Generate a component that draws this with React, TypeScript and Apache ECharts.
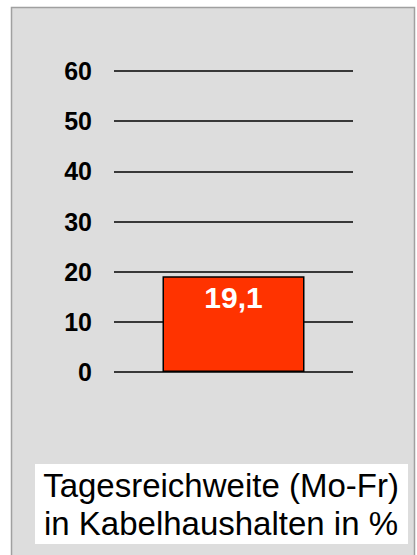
import React, { useEffect, useRef } from "react";
import * as echarts from "echarts";

const categories = ["Tagesreichweite"];
const values = [19.1];
const valueLabels = ["19,1"];
const yTicks = { min: 0, max: 60, interval: 10 };
const captionLines = ["Tagesreichweite (Mo-Fr)", "in Kabelhaushalten in %"];

const FONT = "'Liberation Sans', Arial, Helvetica, sans-serif";

export default function App() {
  const ref = useRef<HTMLDivElement>(null);
  useEffect(() => {
    if (!ref.current) return;
    const chart = echarts.init(ref.current, null, { renderer: "svg" });
    chart.setOption({
      animation: false,
      backgroundColor: "#ffffff",
      graphic: [
        {
          type: "rect",
          z: -10,
          shape: { x: 11.5, y: 7.5, width: 403, height: 560 },
          style: { fill: "#dddddd", stroke: "#a0a0a0", lineWidth: 1.5 },
        },
        {
          type: "rect",
          shape: { x: 35, y: 464, width: 373, height: 80 },
          style: { fill: "#ffffff" },
        },
        {
          type: "text",
          x: 221,
          y: 504,
          style: {
            text: captionLines.join("\n"),
            fontSize: 33,
            fontFamily: FONT,
            lineHeight: 38,
            fill: "#000000",
            align: "center",
            verticalAlign: "middle",
          },
        },
      ],
      grid: { left: 114, right: 64, top: 71, bottom: 183, containLabel: false },
      xAxis: {
        type: "category",
        data: categories,
        axisLine: { show: false },
        axisTick: { show: false },
        axisLabel: { show: false },
      },
      yAxis: {
        type: "value",
        min: yTicks.min,
        max: yTicks.max,
        interval: yTicks.interval,
        axisLine: { show: false },
        axisTick: { show: false },
        axisLabel: {
          margin: 22,
          fontSize: 25,
          fontWeight: "bold",
          fontFamily: FONT,
          color: "#000000",
        },
        splitLine: { lineStyle: { color: "#000000", width: 1.5 } },
      },
      series: [
        {
          type: "bar",
          data: values,
          barWidth: 142,
          itemStyle: { color: "#ff3300", borderColor: "#000000", borderWidth: 1.5 },
          label: {
            show: true,
            position: "insideTop",
            distance: 6,
            formatter: (p: any) => valueLabels[p.dataIndex],
            fontSize: 30,
            fontWeight: "bold",
            fontFamily: FONT,
            color: "#ffffff",
          },
        },
      ],
    });
    return () => chart.dispose();
  }, []);
  return (
    <div
      ref={ref}
      style={{ position: "fixed", left: 0, top: 0, width: 417, height: 555 }}
    />
  );
}
